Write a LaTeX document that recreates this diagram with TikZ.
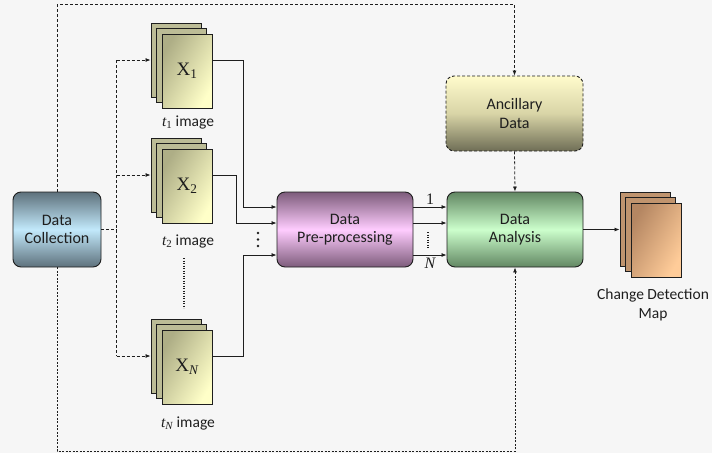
\documentclass[tikz,border=0pt]{standalone}
\usepackage{fontspec}
\setmainfont{Carlito}
\newfontfamily\tms{Liberation Serif}
\usetikzlibrary{arrows.meta,calc}

\definecolor{bg}{HTML}{F6F6F6}
\definecolor{ink}{HTML}{1E1E1E}
\definecolor{dcEdge}{HTML}{5E717C}
\definecolor{dcMid}{HTML}{C2E9FB}
\definecolor{ppEdge}{HTML}{7D5C7B}
\definecolor{ppMid}{HTML}{FFCCFF}
\definecolor{daEdge}{HTML}{628763}
\definecolor{daMid}{HTML}{CCFFCC}
\definecolor{anTop}{HTML}{FFFBCC}
\definecolor{anMid}{HTML}{D8D4A6}
\definecolor{anBot}{HTML}{6F6E56}
\definecolor{olBack}{HTML}{BCBC96}
\definecolor{olDark}{HTML}{AEAE86}
\definecolor{olLight}{HTML}{FFFFC8}
\definecolor{brBack}{HTML}{C0946E}
\definecolor{brDark}{HTML}{B48662}
\definecolor{brLight}{HTML}{FFCC99}

\newcommand\sheetstack[5]{%
  \node[sheet, fill=#4] (#1b) at (#2-11,#3-11) {};
  \node[sheet, fill=#4] (#1m) at (#2-5.5,#3-5.5) {};
  \node[sheet, #5] (#1) at (#2,#3) {};
}

\begin{document}
\begin{tikzpicture}[x=1pt,y=-1pt,
  txt/.style={font=\fontsize{16}{18.5}\selectfont, text=ink},
  box/.style={draw=ink, line width=0.9pt, rounded corners=8pt,
    minimum height=75pt, align=center, txt},
  sheet/.style={draw=ink, line width=0.9pt, minimum width=50pt,
    minimum height=74pt, inner sep=0pt},
  olivefront/.style={left color=olDark, right color=olLight, shading angle=60},
  brownfront/.style={left color=brDark, right color=brLight, shading angle=60},
  wire/.style={draw=ink, line width=0.8pt},
  tip/.style={-{Latex[length=5pt,width=4pt]}},
  dashtop/.style={wire, dash pattern=on 3pt off 2pt},
  dashbot/.style={wire, dash pattern=on 2pt off 1.5pt},
  dotline/.style={draw=ink, line width=1.1pt, dash pattern=on 0.9pt off 1.6pt},
  xlab/.style={font=\tms\fontsize{19}{19}\selectfont, text=ink},
  tlab/.style={font=\fontsize{15.5}{19}\selectfont, text=ink}
]
\useasboundingbox (0,0) rectangle (712,453);
\fill[bg] (0,0) rectangle (712,453);

% main processing boxes
\node[box, minimum width=88pt, top color=dcEdge, bottom color=dcEdge, middle color=dcMid]
  (dc) at (57,229.5) {Data\\Collection};
\node[box, minimum width=136pt, top color=ppEdge, bottom color=ppEdge, middle color=ppMid]
  (pp) at (345,229.5) {Data\\Pre-processing};
\node[box, minimum width=136pt, top color=daEdge, bottom color=daEdge, middle color=daMid]
  (da) at (515,229.5) {Data\\Analysis};
\node[box, minimum width=137pt, dash pattern=on 3pt off 2pt, top color=anTop, bottom color=anBot, middle color=anMid]
  (anc) at (514.5,113.5) {Ancillary\\Data};

% image stacks
\sheetstack{x1}{187}{71}{olBack}{olivefront}
\sheetstack{x2}{187}{186}{olBack}{olivefront}
\sheetstack{xn}{187}{367}{olBack}{olivefront}
\sheetstack{cd}{656}{240}{brBack}{brownfront}

\node[xlab] (x1t) at (x1) {X\textsubscript{1}};
\node[xlab] (x2t) at (x2) {X\textsubscript{2}};
\node[xlab] (xnt) at (xn) {X\textsubscript{\itshape N}};

\node[tlab] (t1) at (188,122) {{\tms\itshape t}\textsubscript{\tms 1} image};
\node[tlab] (t2) at (188,241) {{\tms\itshape t}\textsubscript{\tms 2} image};
\node[tlab] (tn) at (188,423) {{\tms\itshape t}\textsubscript{\tms\itshape N} image};
\node[tlab, align=center] (cdt) at (653,305) {Change Detection\\Map};

% dashed feedback frame
\draw[dashtop, tip] (dc.north) -- ++(0,-187) -| (anc.north);
\draw[dashbot, tip] (dc.south) -- ++(0,184) -| (da.south);
\draw[dashtop, tip] (anc.south) -- (da.north);

% distribution of collected data to the images
\coordinate (brtop) at ($(x1b.west)+(-34,0)$);
\coordinate (brmid) at ($(x2b.west)+(-34,0)$);
\coordinate (brbot) at ($(xnb.west)+(-34,0)$);
\draw[dashtop] (dc.east) -- (dc.east -| brtop);
\draw[dashtop] (brtop) -- (brbot);
\draw[dashtop, tip] (brtop) -- (x1b.west);
\draw[dashtop, tip] (brmid) -- (x2b.west);
\draw[dashtop, tip] (brbot) -- (xnb.west);
\draw[dotline] (184,258) -- (184,308);

% images into pre-processing
\coordinate (pin1) at ($(pp.west)+(0,-22.5)$);
\coordinate (pin2) at ($(pp.west)+(0,-6.5)$);
\coordinate (pinn) at ($(pp.west)+(0,25.5)$);
\draw[wire, tip] (x1.east |- x1b.west) -| ($(pin1)+(-33,0)$) -- (pin1);
\draw[wire, tip] (x2.east |- x2b.west) -| ($(pin2)+(-40,0)$) -- (pin2);
\draw[wire, tip] (xn.east |- xnb.west) -| ($(pinn)+(-33,0)$) -- (pinn);
\fill[ink] (258,233) circle (1.4pt) (258,239.5) circle (1.4pt) (258,246) circle (1.4pt);

% pre-processed data into analysis
\draw[wire, tip] (pp.east |- pin1) -- (da.west |- pin1)
  node[midway, above, font=\tms\fontsize{16}{16}\selectfont, text=ink, inner sep=2pt] {1};
\draw[wire, tip] (pp.east |- pin2) -- (da.west |- pin2);
\draw[wire, tip] (pp.east |- pinn) -- (da.west |- pinn)
  node[midway, below, font=\tms\itshape\fontsize{16}{16}\selectfont, text=ink, inner sep=3pt] {N};
\draw[dotline] (428,232) -- (428,249);

% analysis result
\draw[wire, tip] (da.east) -- (da.east -| cdb.west);
\end{tikzpicture}
\end{document}
